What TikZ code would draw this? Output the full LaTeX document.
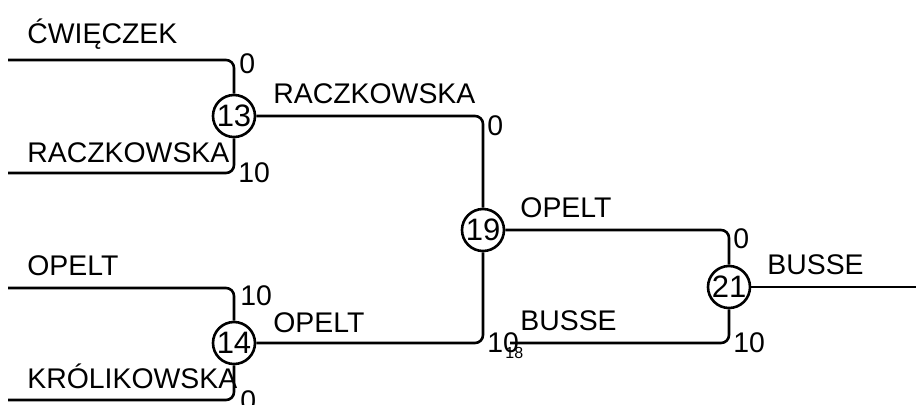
\documentclass[tikz,border=0pt]{standalone}
\usepackage{fontspec}
\setmainfont{Liberation Sans}
\usetikzlibrary{positioning}
\tikzset{
  match/.style={draw,circle,line width=1.3pt,minimum size=21pt,inner sep=0pt,font=\fontsize{15.5}{17}\selectfont},
  lbl/.style={anchor=base west,inner sep=0pt,font=\fontsize{14.2}{16}\selectfont},
  wire/.style={line width=1.3pt,rounded corners=4pt},
}
\begin{document}
\begin{tikzpicture}[x=0.5pt,y=-0.5pt]
\useasboundingbox (0,0) rectangle (916,404);

% matches
\node[match] (c13) at (234,116) {13};
\node[match] (c14) at (234,343) {14};
\node[match] (c19) at (483,230) {19};
\node[match] (c21) at (729,287) {21};

% free ends
\coordinate (w1) at (8,60);
\coordinate (w2) at (8,173);
\coordinate (w3) at (8,288);
\coordinate (w4) at (8,400);
\coordinate (w5) at (510,343);
\coordinate (w6) at (916,287);

\draw[wire] (w1) -| (c13.north);
\draw[wire] (w2) -| (c13.south);
\draw[wire] (w3) -| (c14.north);
\draw[wire] (w4) -| (c14.south);
\draw[wire] (c13.east) -| (c19.north);
\draw[wire] (c14.east) -| (c19.south);
\draw[wire] (c19.east) -| (c21.north);
\draw[wire] (w5) -| (c21.south);
\draw[wire] (c21.east) -- (w6);

% names and scores
\foreach \i/\x/\y/\t in {1/27/43/ĆWIĘCZEK, 2/27/162/RACZKOWSKA, 3/27/275/OPELT, 4/27/388/KRÓLIKOWSKA,
    5/273/103/RACZKOWSKA, 6/273/332/OPELT, 7/520/217/OPELT, 8/520/330/BUSSE, 9/767/274/BUSSE,
    10/239/73/0, 11/238/182/10, 12/240/305/10, 13/240/410/0,
    14/487/135/0, 15/487/352/10, 16/733/248/0, 17/733/352/10} {
  \node[lbl] (l\i) at (\x,\y) {\t};
}
\node[lbl,font=\fontsize{8}{9}\selectfont] (l18) at (505,358) {18};

\end{tikzpicture}
\end{document}
